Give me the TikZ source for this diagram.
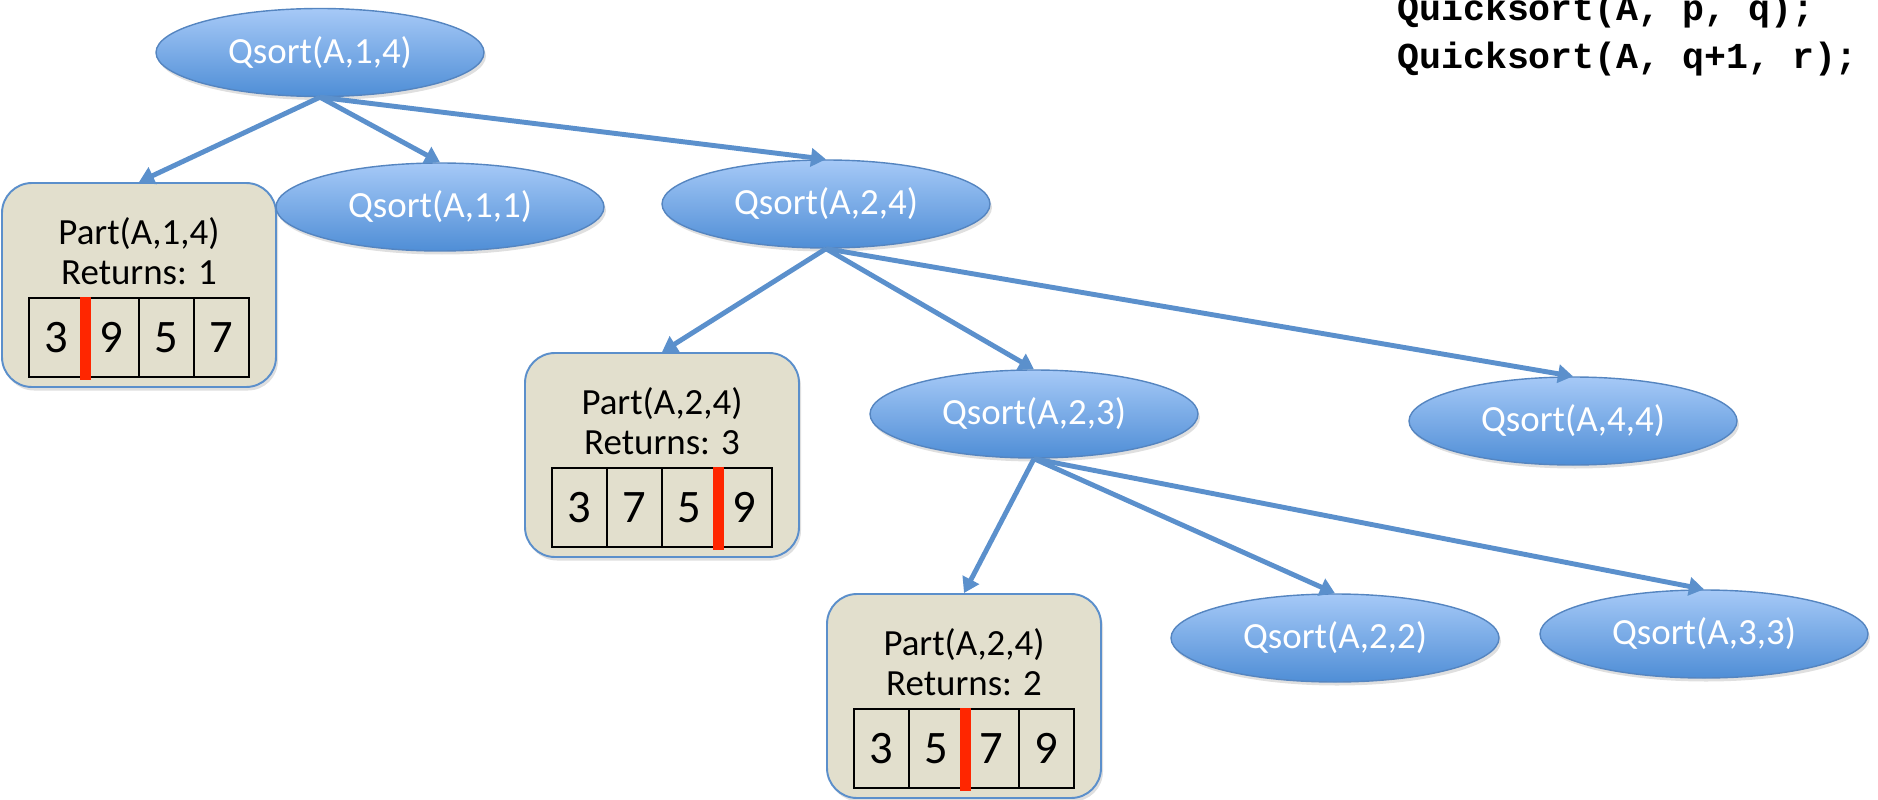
\documentclass[tikz,border=0pt]{standalone}
\usepackage{fontspec}
\setmainfont{Carlito}
\newfontfamily\codefont{Liberation Mono}
\usetikzlibrary{shapes,shadows,arrows.meta}
\definecolor{ovaltop}{HTML}{A6C9F7}
\definecolor{ovalbottom}{HTML}{4F8ED6}
\definecolor{ovalline}{HTML}{5585C0}
\definecolor{boxfill}{HTML}{E2DFCD}
\definecolor{boxline}{HTML}{5B8FCB}
\definecolor{edgeblue}{HTML}{5B90CC}
\definecolor{splitred}{HTML}{FF2600}

\begin{document}
\begin{tikzpicture}[qsort/.style={shape=ellipse,draw=ovalline,line width=0.8pt,top color=ovaltop,bottom color=ovalbottom,minimum width=6.56cm,minimum height=1.76cm,inner sep=0pt,text=white,font=\fontsize{21}{23}\selectfont,drop shadow={opacity=0.25,shadow xshift=0.04cm,shadow yshift=-0.07cm}},
part/.style={shape=rectangle,rounded corners=0.6cm,draw=boxline,line width=1.1pt,fill=boxfill,minimum width=5.48cm,minimum height=4.08cm,drop shadow={opacity=0.25,shadow xshift=0.04cm,shadow yshift=-0.07cm}},
parttext/.style={align=center,inner sep=0pt,font=\fontsize{21}{22.8}\selectfont},
cell/.style={shape=rectangle,draw=black,line width=1.3pt,minimum width=1.1cm,minimum height=1.58cm,inner sep=0pt,font=\fontsize{26.5}{28}\selectfont},
split/.style={draw=splitred,line width=0.22cm},
call/.style={-{Triangle[length=0.3cm,width=0.36cm]},draw=edgeblue,line width=2.8pt},
code/.style={anchor=base west,inner sep=0pt,font=\codefont\bfseries\fontsize{20.8}{24}\selectfont}]
\useasboundingbox (0,0) rectangle (37.56,15.98);
\node[qsort] (0) at (6.40,14.93) {Qsort(A,1,4)};
\node[part] (1) at (2.78,10.28) {};
\node[qsort] (2) at (8.80,11.84) {Qsort(A,1,1)};
\node[qsort] (3) at (16.52,11.90) {Qsort(A,2,4)};
\node[part] (4) at (13.24,6.88) {};
\node[qsort] (5) at (20.68,7.70) {Qsort(A,2,3)};
\node[qsort] (6) at (31.46,7.56) {Qsort(A,4,4)};
\node[part] (7) at (19.28,2.06) {};
\node[qsort] (8) at (26.70,3.22) {Qsort(A,2,2)};
\node[qsort] (9) at (34.08,3.30) {Qsort(A,3,3)};

% partition results
\node[parttext] (1t) at (2.78,10.96) {Part(A,1,4)\\Returns: 1};
\node[cell] (1a) at (1.13,9.23) {3};
\node[cell] (1b) at (2.23,9.23) {9};
\node[cell] (1c) at (3.33,9.23) {5};
\node[cell] (1d) at (4.43,9.23) {7};
\draw[split] (1a.north east) -- ([yshift=-0.04cm]1a.south east);

\node[parttext] (4t) at (13.24,7.56) {Part(A,2,4)\\Returns: 3};
\node[cell] (4a) at (11.59,5.83) {3};
\node[cell] (4b) at (12.69,5.83) {7};
\node[cell] (4c) at (13.79,5.83) {5};
\node[cell] (4d) at (14.89,5.83) {9};
\draw[split] (4c.north east) -- ([yshift=-0.04cm]4c.south east);

\node[parttext] (7t) at (19.28,2.74) {Part(A,2,4)\\Returns: 2};
\node[cell] (7a) at (17.63,1.01) {3};
\node[cell] (7b) at (18.73,1.01) {5};
\node[cell] (7c) at (19.83,1.01) {7};
\node[cell] (7d) at (20.93,1.01) {9};
\draw[split] (7b.north east) -- ([yshift=-0.04cm]7b.south east);

\node[code] (c1) at (27.94,15.56) {Quicksort(A, p, q);};
\node[code] (c2) at (27.94,14.60) {Quicksort(A, q+1, r);};

\path (0.south) edge [call] node {} (1.north);
\path (0.south) edge [call] node {} (2.north);
\path (0.south) edge [call] node {} (3.north);
\path (3.south) edge [call] node {} (4.north);
\path (3.south) edge [call] node {} (5.north);
\path (3.south) edge [call] node {} (6.north);
\path (5.south) edge [call] node {} (7.north);
\path (5.south) edge [call] node {} (8.north);
\path (5.south) edge [call] node {} (9.north);
\end{tikzpicture}
\end{document}
